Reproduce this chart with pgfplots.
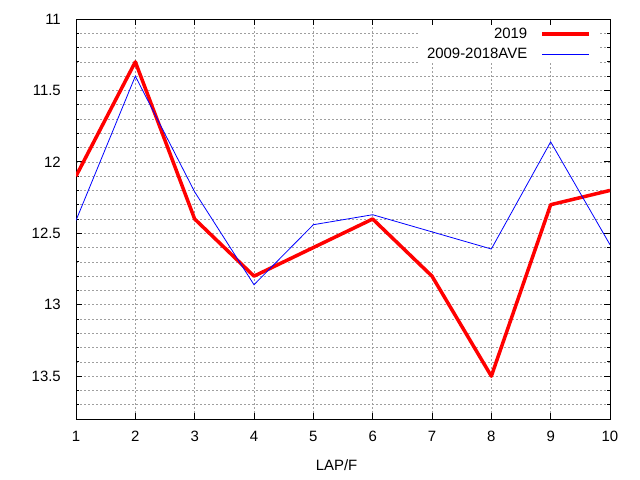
\documentclass[border=0pt]{standalone}
\usepackage{fontspec}
\setmainfont{Liberation Sans}
\usepackage{pgfplots}
\pgfplotsset{compat=1.18}
\begin{document}
\fontsize{15}{18}\selectfont
\begin{tikzpicture}
\useasboundingbox (0,0) rectangle (640bp,480bp);
\begin{axis}[
  at={(76bp,61bp)}, anchor=south west,
  scale only axis, width=534bp, height=400bp,
  xmin=1, xmax=10, ymin=11, ymax=13.8, y dir=reverse,
  xtick={1,...,10}, ytick={11,11.5,...,14},
  minor y tick num=4,
  xmajorgrids, ymajorgrids, yminorgrids,
  grid style={dash pattern=on 2bp off 2bp, gray!75, line width=0.6bp},
  minor grid style={dash pattern=on 2bp off 2bp, gray!75, line width=0.6bp},
  tick align=inside, major tick length=6bp, minor tick length=3bp,
  tick style={black, line width=0.8bp},
  axis line style={line width=1bp},
  /pgf/number format/assume math mode=true,
  yticklabel style={anchor=east, inner sep=0pt, xshift=-15bp},
  xticklabel style={anchor=north, inner sep=0pt, yshift=-12bp},
  xlabel={LAP/F},
  every axis x label/.style={at={(axis description cs:0.488,0)}, anchor=center, yshift=-46bp},
  legend plot pos=right,
  legend cell align=right,
  legend style={at={(axis description cs:0.9775,0.9835)}, anchor=north east, draw=none, fill=white, inner xsep=7bp, inner ysep=2bp, row sep=8bp, nodes={inner sep=0pt}},
  legend image code/.code={\path (0bp,0bp); \draw[#1] (13bp,0bp) -- (60bp,0bp);},
]
\addplot[red, line width=3.5bp, line join=round] coordinates {
  (1,12.1) (2,11.3) (3,12.4) (4,12.8) (5,12.6) (6,12.4) (7,12.8) (8,13.5) (9,12.3) (10,12.2)
};
\addlegendentry{2019}
\addplot[blue, line width=0.8bp] coordinates {
  (1,12.41) (2,11.40) (3,12.21) (4,12.86) (5,12.44) (6,12.37) (7,12.49) (8,12.61) (9,11.86) (10,12.58)
};
\addlegendentry{2009-2018AVE}
\end{axis}
\end{tikzpicture}
\end{document}
